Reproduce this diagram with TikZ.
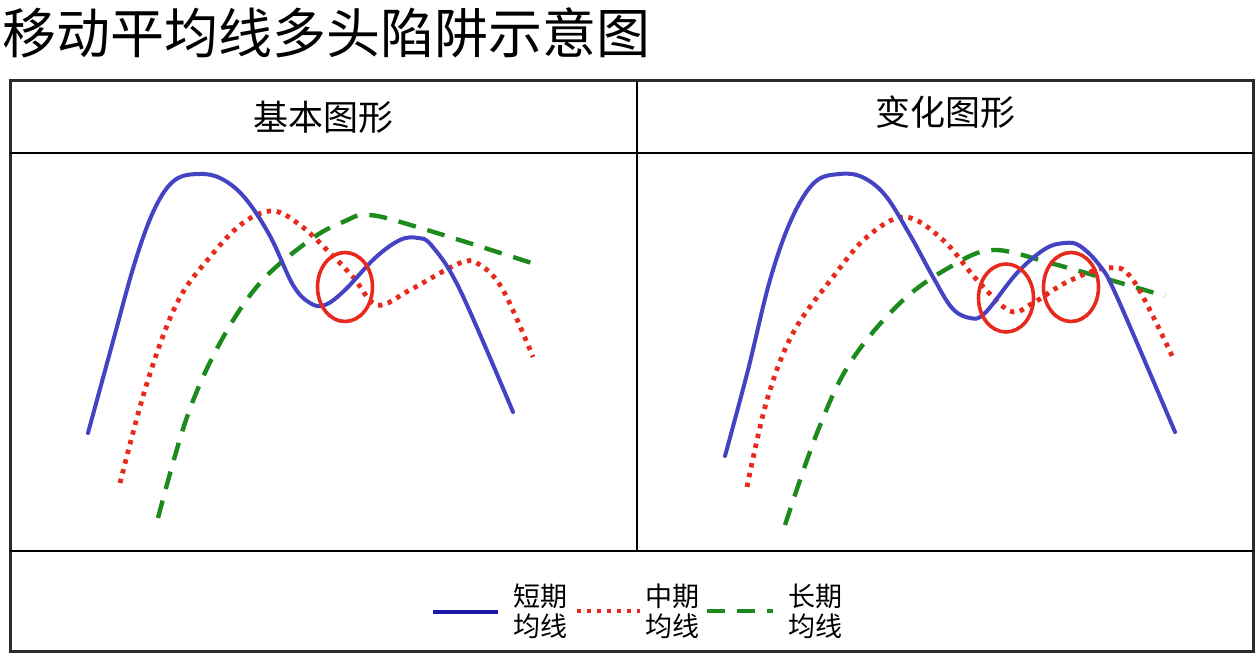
\documentclass[tikz,border=0pt]{standalone}
\usepackage{fontspec}
\usepackage{xcolor}
\setmainfont{Noto Sans CJK SC}
\usetikzlibrary{positioning,calc}
\definecolor{mablue}{HTML}{4343C4}
\definecolor{mablued}{HTML}{1A1AA6}
\definecolor{mared}{HTML}{E82A1E}
\definecolor{magreen}{HTML}{1C8A1C}
\definecolor{magrid}{HTML}{2A2A2A}
\tikzset{
  frame/.style  ={draw=magrid, line width=1.5pt},
  rule/.style   ={draw=black, line width=1.4pt},
  shortma/.style={draw=mablue, line width=2pt, line cap=round},
  midma/.style  ={draw=mared, line width=2.4pt,
                  dash pattern=on 2.2pt off 2.8pt},
  longma/.style ={draw=magreen, line width=2.2pt, dash pattern=on 9pt off 6pt},
  trap/.style   ={draw=mared, line width=1.8pt},
  head/.style   ={font=\fontsize{17.5}{17.5}\selectfont, inner sep=0pt},
  keytext/.style={font=\fontsize{13.5}{15}\selectfont, align=center, inner sep=0pt},
}
\begin{document}
\begin{tikzpicture}[x=0.5pt, y=-0.5pt]
  \useasboundingbox (0,0) rectangle (1256,656);

  \node[anchor=west, inner sep=0pt, font=\fontsize{27}{27}\selectfont]
    (title) at (2,33) {移动平均线多头陷阱示意图};

  % table
  \draw[frame] (10,81) rectangle (1253,651);
  \draw[rule] (10,153) -- (1253,153);
  \draw[rule] (10,551) -- (1253,551);
  \draw[rule] (637,81) -- (637,551);
  \node[head] (basic) at (323,117) {基本图形};
  \node[head] (varied) at (945,112) {变化图形};

  % basic pattern
  \draw[longma] plot[smooth, tension=0.6] coordinates {(158,518) (187,417) (220,343)
    (260,283) (310,240) (343,222) (370,215) (427,230) (538,265)};
  \draw[midma] plot[smooth, tension=0.6] coordinates {(120,483) (147,383) (177,303)
    (210,257) (243,223) (273,211) (300,225) (327,250) (353,277) (377,305)
    (410,290) (460,263) (480,265) (503,290) (533,357)};
  \draw[shortma] plot[smooth, tension=0.6] coordinates {(88,433) (112,345) (135,262)
    (155,208) (175,180) (200,174) (222,179) (245,198) (270,236) (293,285)
    (310,303) (325,305) (345,290) (375,258) (400,240) (418,238) (432,246)
    (460,290) (513,412)};
  \draw[trap] (345,287) ellipse [x radius=27.5, y radius=34.5];

  % varied pattern
  \draw[longma] plot[smooth, tension=0.6] coordinates {(785,525) (817,433) (850,363)
    (900,303) (950,267) (993,250) (1050,263) (1100,277) (1165,296)};
  \draw[midma] plot[smooth, tension=0.6] coordinates {(747,487) (767,400) (793,333)
    (833,277) (867,237) (905,217) (943,240) (977,280) (1010,311) (1033,303)
    (1067,282) (1107,268) (1133,280) (1173,358)};
  \draw[shortma] plot[smooth, tension=0.6] coordinates {(725,456) (748,370) (770,280)
    (792,218) (815,182) (840,174) (862,177) (885,195) (910,235) (933,277)
    (952,308) (970,318) (985,313) (1017,273) (1045,249) (1065,243) (1080,246)
    (1100,266) (1117,297) (1175,432)};
  \draw[trap] (1006,298) ellipse [x radius=27.5, y radius=34];
  \draw[trap] (1071,287) ellipse [x radius=27.5, y radius=34.5];

  % legend
  \coordinate (s0) at (433,612);
  \coordinate (s1) at (498,612);
  \coordinate (m0) at (577,611);
  \coordinate (m1) at (640,611);
  \coordinate (l0) at (707,611);
  \coordinate (l1) at (773,611);
  \draw[shortma, draw=mablued, line cap=butt] (s0) -- (s1);
  \draw[midma] (m0) -- (m1);
  \draw[longma] (l0) -- (l1);
  \node[keytext] (shortkey) at (540,611) {短期\\均线};
  \node[keytext] (midkey) at (672,611) {中期\\均线};
  \node[keytext] (longkey) at (815,611) {长期\\均线};
\end{tikzpicture}
\end{document}
